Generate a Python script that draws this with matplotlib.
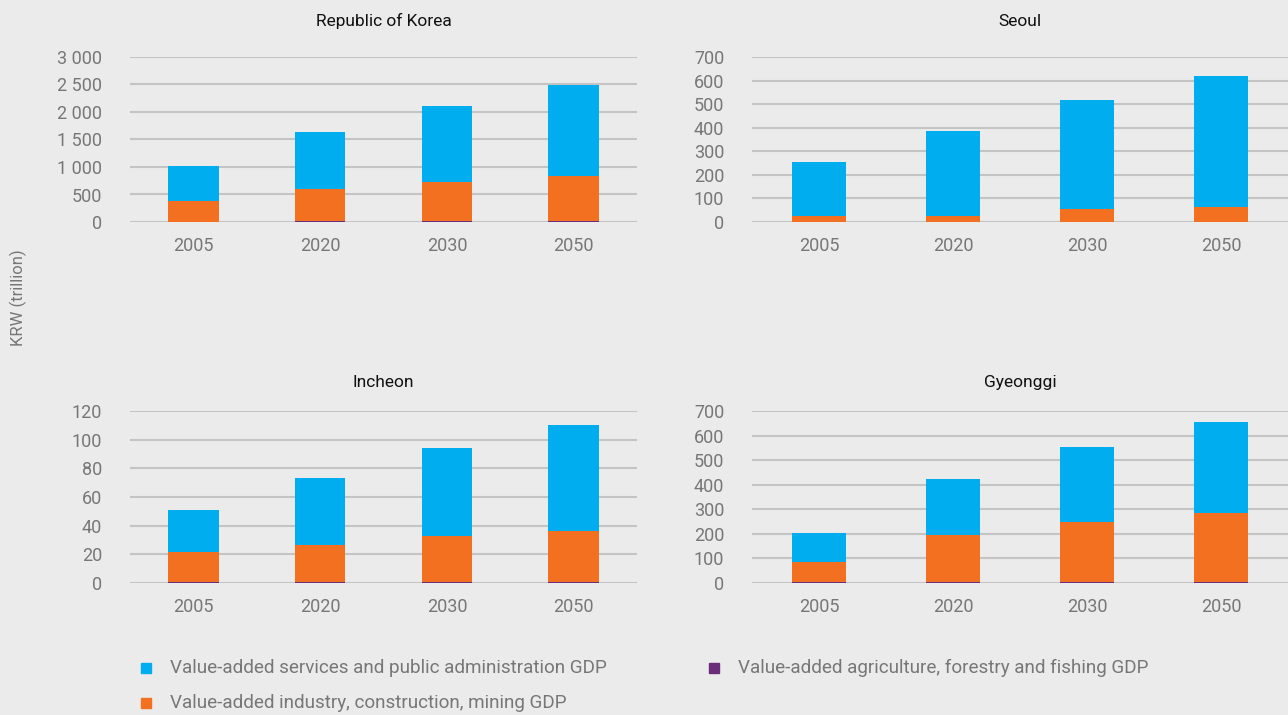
import matplotlib
matplotlib.use("Agg")
import matplotlib.pyplot as plt
from matplotlib.patches import Rectangle
import numpy as np

plt.rcParams['font.family'] = ['Roboto', 'DejaVu Sans']

years = ["2005", "2020", "2030", "2050"]

# KRW trillion
korea_agri = [8, 25, 25, 25]
korea_ind = [372, 571, 710, 806]
korea_serv = [644, 1043, 1373, 1657]

seoul_agri = [0.4, 0.3, 0.3, 0.3]
seoul_ind = [25, 25, 55, 62]
seoul_serv = [228, 359, 462, 556]

incheon_agri = [0.6, 0.5, 0.5, 0.4]
incheon_ind = [21.1, 25.8, 32.1, 36.0]
incheon_serv = [29.3, 47.3, 61.6, 73.6]

gyeonggi_agri = [3, 3, 3, 3]
gyeonggi_ind = [82, 192, 247, 281]
gyeonggi_serv = [118, 229, 305, 371]

titles = ["Republic of Korea", "Seoul", "Incheon", "Gyeonggi"]
legend_labels = ["Value-added services and public administration GDP",
                 "Value-added industry, construction, mining GDP",
                 "Value-added agriculture, forestry and fishing GDP"]

c_serv = "#00AEEF"
c_ind = "#F37021"
c_agri = "#6B2C7A"
bg = "#EBEBEB"
grey = "#777777"

fig = plt.figure(figsize=(12.88, 7.15), dpi=100, facecolor=bg)

W, H = 1288, 715
boxes = [(130, 57, 637, 222), (752, 57, 1288, 222),
         (130, 411, 637, 583), (752, 411, 1288, 583)]
title_pads = [22, 22, 17.5, 17.5]

panels = [
    (korea_agri, korea_ind, korea_serv, 3000, 500),
    (seoul_agri, seoul_ind, seoul_serv, 700, 100),
    (incheon_agri, incheon_ind, incheon_serv, 120, 20),
    (gyeonggi_agri, gyeonggi_ind, gyeonggi_serv, 700, 100),
]

def fmt(v):
    return f"{int(v):,}".replace(",", " ")

for (x0, y0, x1, y1), (agri, ind, serv, ymax, step), title, tp in zip(boxes, panels, titles, title_pads):
    ax = fig.add_axes([x0 / W, 1 - y1 / H, (x1 - x0) / W, (y1 - y0) / H])
    ax.set_facecolor(bg)
    x = np.arange(len(years))
    agri = np.array(agri)
    ind = np.array(ind)
    serv = np.array(serv)
    ax.bar(x, agri, width=0.4, color=c_agri, zorder=3)
    ax.bar(x, ind, width=0.4, bottom=agri, color=c_ind, zorder=3)
    ax.bar(x, serv, width=0.4, bottom=agri + ind, color=c_serv, zorder=3)
    ax.set_xlim(-0.5, len(years) - 0.5)
    ax.set_ylim(0, ymax)
    ticks = np.arange(0, ymax + step, step)
    ax.set_yticks(ticks)
    ax.set_yticklabels([fmt(t) for t in ticks])
    ax.set_xticks(x)
    ax.set_xticklabels(years)
    ax.yaxis.grid(True, color="#C4C4C4", linewidth=1.5, zorder=0)
    ax.set_axisbelow(True)
    for s in ax.spines.values():
        s.set_visible(False)
    ax.tick_params(axis="both", length=0, labelsize=13, colors=grey)
    ax.tick_params(axis="x", pad=10.5)
    ax.tick_params(axis="y", pad=20)
    ax.set_title(title, fontsize=12.5, color="#111111", pad=tp)

fig.text(18 / W, 1 - 298 / H, "KRW (trillion)", rotation=90, ha="center",
         va="center", fontsize=12, color=grey)

# legend laid out by hand: (marker x, text x, row y)
legend_pos = [(146, 170, 668), (146, 170, 703), (714, 738, 668)]
for (mx, tx, ty), lab, c in zip(legend_pos, legend_labels, (c_serv, c_ind, c_agri)):
    fig.patches.append(Rectangle(((mx - 5) / W, 1 - (ty + 5) / H), 10 / W, 10 / H,
                                 transform=fig.transFigure, color=c))
    fig.text(tx / W, 1 - ty / H, lab, ha="left", va="center",
             fontsize=13.6, color=grey)

fig.savefig("out.png", dpi=100, facecolor=bg)
